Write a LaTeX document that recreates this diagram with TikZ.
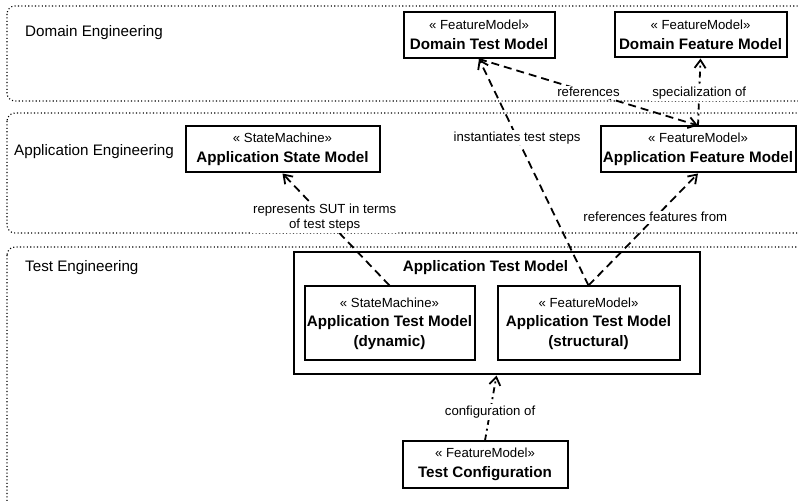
\documentclass[tikz,border=0pt]{standalone}
\usepackage{fontspec}
\setmainfont{Liberation Sans}
\usetikzlibrary{arrows.meta}
\newcommand\stereo[1]{{\fontsize{13.2}{19.5}\selectfont « #1»}\\}
\begin{document}
\begin{tikzpicture}[x=1pt,y=-1pt,
  lane/.style={draw, line width=1.1pt, dash pattern=on 1.1pt off 2.3pt, rounded corners=8pt},
  lanelabel/.style={anchor=west, inner sep=0pt, font=\fontsize{15.2}{18}\selectfont},
  model/.style={draw, line width=2pt, fill=white, inner sep=0pt, align=center, font=\fontsize{15.2}{19.5}\selectfont},
  edgelbl/.style={fill=white, inner sep=1.5pt, align=center, font=\fontsize{13.2}{15}\selectfont},
  dep/.style={line width=1.8pt, dash pattern=on 8pt off 5pt, -{Straight Barb[length=8pt,width=11pt]}},
  depdot/.style={line width=1.8pt, dash pattern=on 6pt off 4pt on 2pt off 4pt, -{Straight Barb[length=8pt,width=11pt]}}
]
\useasboundingbox (0,0) rectangle (798,502);
\begin{scope}
  \clip (0,0) rectangle (798,502);
  \draw[lane] (7,6) rectangle (830,101);
  \draw[lane] (7,113) rectangle (830,233);
  \draw[lane] (7,247) rectangle (830,530);
\end{scope}
\node[lanelabel] (ldom) at (25,33) {Domain Engineering};
\node[lanelabel] (lapp) at (14,152) {Application Engineering};
\node[lanelabel] (ltest) at (25,268) {Test Engineering};

\node[model, minimum width=151pt, minimum height=46pt] (domtest) at (479,35) {\stereo{FeatureModel}\textbf{Domain Test Model}};
\node[model, minimum width=172pt, minimum height=45pt] (domfeat) at (700.5,35) {\stereo{FeatureModel}\textbf{Domain Feature Model}};
\node[model, minimum width=194pt, minimum height=46pt] (appstate) at (282.5,149.5) {\stereo{StateMachine}\textbf{Application State Model}};
\node[model, minimum width=195pt, minimum height=46pt] (appfeat) at (698,149.5) {\stereo{FeatureModel}\textbf{Application Feature Model}};
\node[model, minimum width=406pt, minimum height=122pt] (atm) at (496.5,313.5) {};
\node[font=\fontsize{15.2}{18}\selectfont\bfseries, inner sep=0pt] (atmtitle) at (485.5,268) {Application Test Model};
\node[model, minimum width=170pt, minimum height=74pt] (dyn) at (389.5,323.5) {\stereo{StateMachine}\textbf{Application Test Model}\\\textbf{(dynamic)}};
\node[model, minimum width=182pt, minimum height=74pt] (struc) at (588.5,323.5) {\stereo{FeatureModel}\textbf{Application Test Model}\\\textbf{(structural)}};
\node[model, minimum width=165pt, minimum height=46pt] (testcfg) at (485,464.5) {\stereo{FeatureModel}\textbf{Test Configuration}};

\draw[dep] (struc.north) -- node[edgelbl, pos=0.652] (l1) {instantiates test steps} (domtest.south);
\draw[dep] (struc.north) -- node[edgelbl, pos=0.61] (l2) {references features from} (appfeat.south);
\draw[dep] (dyn.north) -- node[edgelbl, pos=0.606] (l3) {represents SUT in terms\\of test steps} (appstate.south);
\draw[dep] (domtest.south) -- node[edgelbl, pos=0.5] (l4) {references} (appfeat.north);
\draw[depdot] (appfeat.north) -- node[edgelbl, pos=0.485] (l5) {specialization of} (domfeat.south);
\draw[depdot] (testcfg.north) -- node[edgelbl, pos=0.44] (l6) {configuration of} (atm.south);
\end{tikzpicture}
\end{document}
